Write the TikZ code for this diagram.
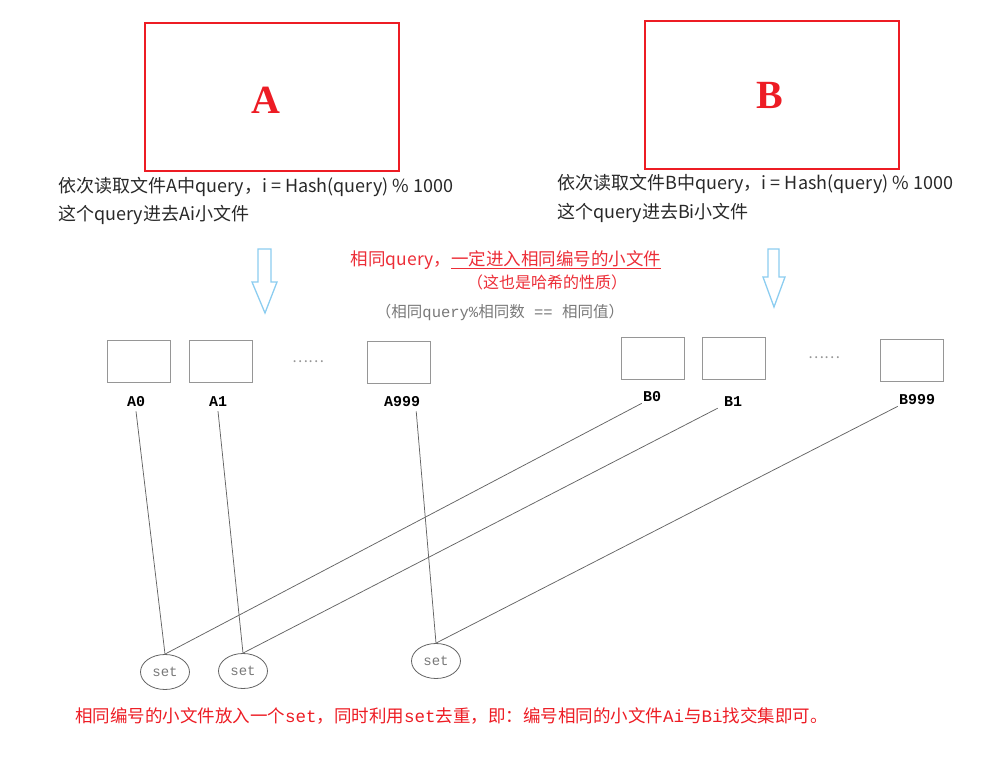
\documentclass[tikz,border=0pt]{standalone}
\usepackage{fontspec}
\usepackage{xcolor}
\usepackage{tikz}
\usetikzlibrary{shapes.geometric}
\setmainfont{Noto Sans CJK SC}
\newfontfamily\mono{Liberation Mono}
\newfontfamily\serifbf{Liberation Serif}
\definecolor{boxred}{RGB}{237,28,36}
\definecolor{textred}{RGB}{236,45,55}
\definecolor{arrowblue}{RGB}{140,205,240}
\definecolor{filegray}{RGB}{150,150,150}
\definecolor{linegray}{RGB}{100,100,100}
\definecolor{textgray}{RGB}{120,120,120}
\definecolor{textblack}{RGB}{40,40,40}
\tikzset{
  bigfile/.style={draw=boxred, line width=2pt, minimum width=254pt, minimum height=148pt, inner sep=0pt},
  bigletter/.style={text=boxred, font=\serifbf\bfseries\fontsize{40}{40}\selectfont},
  smallfile/.style={draw=filegray, line width=1pt, minimum width=63pt, minimum height=42pt, inner sep=0pt},
  filelabel/.style={inner sep=1pt, text=black, font=\mono\bfseries\fontsize{15}{15}\selectfont},
  setnode/.style={ellipse, draw=linegray, line width=0.8pt, minimum width=49pt, minimum height=35pt,
    inner sep=0pt, text=textgray, font=\mono\fontsize{14}{14}\selectfont},
  hollowarrow/.style={draw=arrowblue, line width=1.3pt, line join=miter},
  link/.style={draw=linegray, line width=0.75pt},
  desc/.style={anchor=west, inner sep=0pt, text=textblack, font=\fontsize{18}{20}\selectfont}
}

\begin{document}
\begin{tikzpicture}[x=1pt, y=-1pt]

    \useasboundingbox (0,0) rectangle (994,762);

    % Files: A & B
    \node[bigfile] (fA) at (272,97) {};
    \node[bigfile] (fB) at (772,95) {};
    \node[bigletter] (tA) at ([xshift=-6pt,yshift=-3pt]fA.center) {A};
    \node[bigletter] (tB) at ([xshift=-2pt]fB.center) {B};

    % Labels: reading the files
    \node[desc] (dA1) at (58,187) {依次读取文件A中query，i = Hash(query) \% 1000};
    \node[desc] (dA2) at (58,215) {这个query进去Ai小文件};
    \node[desc] (dB1) at (557,184) {依次读取文件B中query，i = Hash(query) \% 1000};
    \node[desc] (dB2) at (557,213) {这个query进去Bi小文件};

    % Arrows: down to the small files
    \draw[hollowarrow] (258,249) -- (271,249) -- (271,282) -- (277,282) -- (265,313)
        -- (252,282) -- (258,282) -- cycle;
    \draw[hollowarrow] (768,249) -- (779,249) -- (779,277) -- (785,277) -- (774,307)
        -- (763,277) -- (768,277) -- cycle;

    % Notes: same query, same number
    \node[text=textred, font=\fontsize{17.5}{20}\selectfont, inner sep=0pt] (n1) at (506,260)
        {相同query，\underline{一定进入相同编号的小文件}};
    \node[text=textred, font=\fontsize{16}{18}\selectfont, inner sep=0pt] (n2) at (547,282)
        {（这也是哈希的性质）};
    \node[text=textgray, font=\fontsize{15.5}{18}\selectfont, inner sep=0pt] (n3) at (500,312)
        {（相同{\mono query\%}相同数{\mono\ ==\ }相同值）};

    % Small files: A0 ... A999
    \node[smallfile] (fA0) at (138.5,361) {};
    \node[smallfile] (fA1) at (220.5,361) {};
    \node[smallfile] (fA999) at (398.5,362) {};
    \node[text=filegray, font=\fontsize{15}{15}\selectfont] (dotsA) at (308,362) {……};

    % Small files: B0 ... B999
    \node[smallfile] (fB0) at (652.5,358) {};
    \node[smallfile] (fB1) at (733.5,358) {};
    \node[smallfile] (fB999) at (911.5,360) {};
    \node[text=filegray, font=\fontsize{15}{15}\selectfont] (dotsB) at (824,358) {……};

    % Labels: small files
    \node[filelabel] (lA0) at (136,402) {A0};
    \node[filelabel] (lA1) at (218,402) {A1};
    \node[filelabel] (lA999) at (402,402) {A999};
    \node[filelabel] (lB0) at (652,397) {B0};
    \node[filelabel] (lB1) at (733,402) {B1};
    \node[filelabel] (lB999) at (917,400) {B999};

    % Sets
    \node[setnode] (s0) at (165,672) {set};
    \node[setnode] (s1) at (243,671) {set};
    \node[setnode] (s999) at (436,661) {set};

    % Links: small files into sets
    \draw[link] ([yshift=-3pt]lA0.south) -- (s0.north);
    \draw[link] ([yshift=-3pt]lA1.south) -- (s1.north);
    \draw[link] ([xshift=-5pt,yshift=-3pt]lA999.south east) -- (s999.north);
    \draw[link] (lB0.south west) -- (s0.north);
    \draw[link] ([xshift=-5pt]lB1.south west) -- (s1.north);
    \draw[link] (lB999.south west) -- (s999.north);

    % Label: conclusion
    \node[anchor=west, inner sep=0pt, text=boxred, font=\fontsize{17.5}{20}\selectfont] (concl) at (75,716)
        {相同编号的小文件放入一个{\mono set}，同时利用{\mono set}去重，即：编号相同的小文件{\mono Ai}与{\mono Bi}找交集即可。};

\end{tikzpicture}
\end{document}
